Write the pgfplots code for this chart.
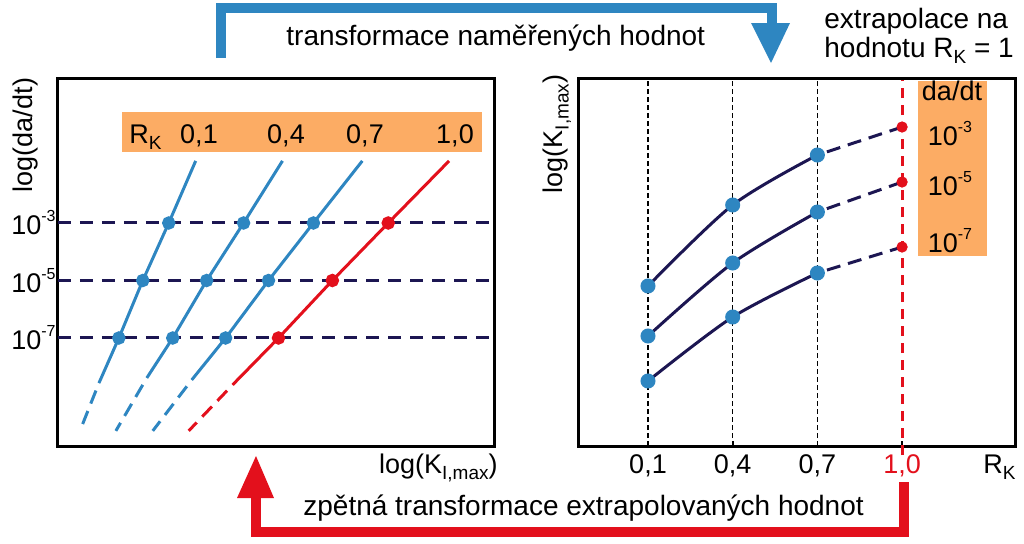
\documentclass[border=0pt]{standalone}
\usepackage{fontspec}
\setmainfont{Liberation Sans}
\usepackage{pgfplots}
\pgfplotsset{compat=1.18}
\definecolor{cblue}{RGB}{46,134,193}
\definecolor{cred}{RGB}{227,16,28}
\definecolor{cnavy}{RGB}{28,22,82}
\definecolor{corange}{RGB}{252,172,100}
\newcommand{\pw}[1]{\raisebox{6.5pt}{\fontsize{8}{8}\selectfont #1}}
\newcommand{\sub}[1]{\raisebox{-3pt}{\fontsize{9.5}{9.5}\selectfont #1}}
\newcommand{\fa}{\fontsize{14}{16}\selectfont}
\newcommand{\fb}{\fontsize{13.5}{16}\selectfont}
\begin{document}
\begin{tikzpicture}
% ---------------- left panel ----------------
\begin{axis}[
  at={(29pt,-223pt)}, anchor=south west, scale only axis,
  width=218.5pt, height=184pt,
  xmin=0, xmax=4.38, ymin=-10.757, ymax=2.043,
  xtick=\empty, ytick={-7,-5,-3},
  yticklabels={10\pw{-7},10\pw{-5},10\pw{-3}},
  yticklabel style={font=\fb, inner sep=1pt, anchor=base east, yshift=-6pt},
  major tick length=0pt,
  axis line style={line width=1.5pt},
  clip=false,
]
\addplot[cnavy, line width=1.5pt, dash pattern=on 6.5pt off 4.5pt] coordinates {(0,-3) (4.38,-3)};
\addplot[cnavy, line width=1.5pt, dash pattern=on 6.5pt off 4.5pt] coordinates {(0,-5) (4.38,-5)};
\addplot[cnavy, line width=1.5pt, dash pattern=on 6.5pt off 4.5pt] coordinates {(0,-7) (4.38,-7)};
% R_K = 0.1
\addplot[cblue, line width=1.5pt, mark=*, mark size=2.6pt, mark indices={2,3,4}, mark options={solid,fill=cblue,draw=cblue}]
  coordinates {(1.38,-0.84) (1.11,-3) (0.85,-5) (0.61,-7) (0.41,-8.57)};
\addplot[cblue, line width=1.5pt, dash pattern=on 7pt off 4pt, dash phase=7pt] coordinates {(0.41,-8.57) (0.22,-10.23)};
% R_K = 0.4
\addplot[cblue, line width=1.5pt, mark=*, mark size=2.6pt, mark indices={2,3,4}, mark options={solid,fill=cblue,draw=cblue}]
  coordinates {(2.25,-0.84) (1.86,-3) (1.49,-5) (1.15,-7) (0.89,-8.39)};
\addplot[cblue, line width=1.5pt, dash pattern=on 7pt off 4pt, dash phase=7pt] coordinates {(0.89,-8.39) (0.58,-10.23)};
% R_K = 0.7
\addplot[cblue, line width=1.5pt, mark=*, mark size=2.6pt, mark indices={2,3,4}, mark options={solid,fill=cblue,draw=cblue}]
  coordinates {(3.05,-0.84) (2.56,-3) (2.11,-5) (1.68,-7) (1.34,-8.46)};
\addplot[cblue, line width=1.5pt, dash pattern=on 7pt off 4pt, dash phase=7pt] coordinates {(1.34,-8.46) (0.95,-10.23)};
% R_K = 1.0
\addplot[cred, line width=1.5pt, mark=*, mark size=2.6pt, mark indices={2,3,4}, mark options={solid,fill=cred,draw=cred}]
  coordinates {(3.92,-0.84) (3.31,-3) (2.75,-5) (2.21,-7) (1.75,-8.63)};
\addplot[cred, line width=1.5pt, dash pattern=on 7pt off 4pt, dash phase=7pt] coordinates {(1.75,-8.63) (1.31,-10.23)};
\end{axis}
% ---------------- right panel ----------------
\begin{axis}[
  at={(289pt,-223pt)}, anchor=south west, scale only axis,
  width=218.5pt, height=184pt,
  xmin=-0.148, xmax=1.4, ymin=0, ymax=3.68,
  xtick={0.1,0.4,0.7,1}, xticklabels={{0,1},{0,4},{0,7},{\textcolor{cred}{1,0}}},
  xtick pos=left, ytick=\empty,
  major tick length=2.5pt, tick style={black, line width=0.8pt},
  xticklabel style={font=\fb, inner sep=0pt, anchor=base, yshift=-13.5pt},
  axis line style={line width=1.5pt},
  clip=false,
]
\addplot[black, line width=0.6pt, dash pattern=on 2.5pt off 1.5pt] coordinates {(0.1,0) (0.1,3.68)};
\addplot[black, line width=0.6pt, dash pattern=on 2.5pt off 1.5pt] coordinates {(0.4,0) (0.4,3.68)};
\addplot[black, line width=0.6pt, dash pattern=on 2.5pt off 1.5pt] coordinates {(0.7,0) (0.7,3.68)};
\addplot[cred, line width=1.5pt, dash pattern=on 5pt off 3.5pt] coordinates {(1,-0.09) (1,3.66)};
% da/dt = 1e-3
\addplot[cnavy, line width=1.5pt, dash pattern=on 7pt off 4pt, dash phase=6pt] coordinates {(0.7,2.91) (1,3.19)};
\addplot[cnavy, line width=1.5pt, smooth, mark=*, mark size=3pt, mark options={solid,fill=cblue,draw=cblue}]
  coordinates {(0.1,1.60) (0.4,2.41) (0.7,2.91)};
% da/dt = 1e-5
\addplot[cnavy, line width=1.5pt, dash pattern=on 7pt off 4pt, dash phase=6pt] coordinates {(0.7,2.34) (1,2.64)};
\addplot[cnavy, line width=1.5pt, smooth, mark=*, mark size=3pt, mark options={solid,fill=cblue,draw=cblue}]
  coordinates {(0.1,1.10) (0.4,1.83) (0.7,2.34)};
% da/dt = 1e-7
\addplot[cnavy, line width=1.5pt, dash pattern=on 7pt off 4pt, dash phase=6pt] coordinates {(0.7,1.73) (1,1.99)};
\addplot[cnavy, line width=1.5pt, smooth, mark=*, mark size=3pt, mark options={solid,fill=cblue,draw=cblue}]
  coordinates {(0.1,0.65) (0.4,1.29) (0.7,1.73)};
% extrapolated points
\addplot[only marks, mark=*, mark size=2.6pt, mark options={fill=cred,draw=cred}]
  coordinates {(1,3.19) (1,2.64) (1,1.99)};
\end{axis}
% ---------------- annotations ----------------
\begin{scope}[x=0.5pt, y=0.5pt, every node/.append style={inner sep=0pt}]
\path[use as bounding box] (0,0) rectangle (1024,-543);
% orange boxes
\fill[corange] (122,-112) rectangle (482,-152);
\fill[corange] (918,-81) rectangle (987,-256);
\node[anchor=base west, font=\fb] at (129,-143) {R\sub{K}};
\node[anchor=base, font=\fb] at (199,-143) {0,1};
\node[anchor=base, font=\fb] at (286,-143) {0,4};
\node[anchor=base, font=\fb] at (365,-143) {0,7};
\node[anchor=base, font=\fb] at (455,-143) {1,0};
\node[anchor=base, font=\fb] at (952,-100) {da/dt};
\node[anchor=base, font=\fb] at (950,-145) {10\pw{-3}};
\node[anchor=base, font=\fb] at (950,-195) {10\pw{-5}};
\node[anchor=base, font=\fb] at (950,-252) {10\pw{-7}};
% axis labels
\node[rotate=90, font=\fb] at (26,-135) {log(da/dt)};
\node[rotate=90, font=\fb] at (557,-134) {log(K\sub{I,max})};
\node[anchor=base east, font=\fb] at (498,-473) {log(K\sub{I,max})};
\node[anchor=base west, font=\fb] at (983,-473) {R\sub{K}};
% top-right annotation
\node[anchor=base west, font=\fa] at (824,-28) {extrapolace na};
\node[anchor=base west, font=\fa] at (824,-57) {hodnotu R\sub{K} = 1};
% blue arrow
\draw[cblue, line width=5pt, line join=miter] (221,-58) -- (221,-8) -- (772,-8) -- (772,-26);
\fill[cblue] (751,-23) -- (790,-23) -- (771,-63) -- cycle;
\node[anchor=base west, font=\fa] at (286,-45) {transformace naměřených hodnot};
% red arrow
\draw[cred, line width=5pt, line join=miter] (904,-482) -- (904,-532) -- (256,-532) -- (256,-495);
\fill[cred] (237,-498) -- (274,-498) -- (256,-456) -- cycle;
\node[anchor=base west, font=\fa] at (303,-515) {zpětná transformace extrapolovaných hodnot};
\end{scope}
\end{tikzpicture}
\end{document}
